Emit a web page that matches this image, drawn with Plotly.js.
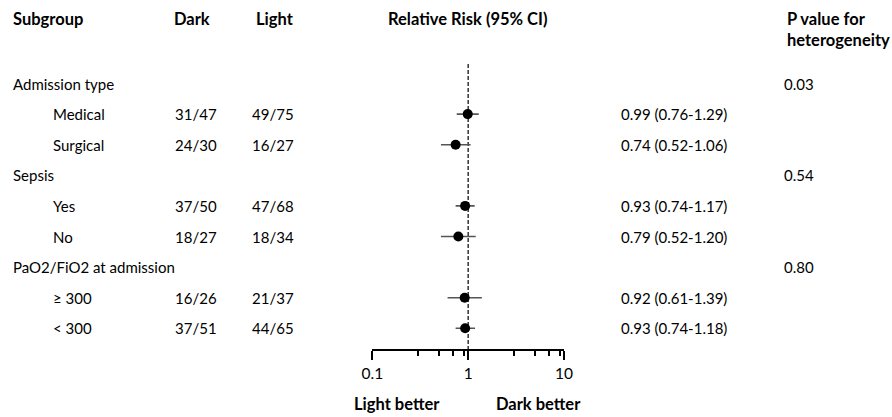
<!DOCTYPE html>
<html>
<head>
<meta charset="utf-8">
<script src="https://cdn.plot.ly/plotly-3.0.1.min.js"></script>
<style>html,body{margin:0;padding:0;background:#fff;}#chart{width:892px;height:417px;}</style>
</head>
<body>
<div id="chart"></div>
<script>
// ---- data ----
const groups = ["Admission type", "Sepsis", "PaO2/FiO2 at admission"];
const pValues = ["0.03", "0.54", "0.80"];
const subgroups = ["Medical", "Surgical", "Yes", "No", "\u2265 300", "< 300"];
const subgroupGroup = [0, 0, 1, 1, 2, 2];
const darkCounts = ["31/47", "24/30", "37/50", "18/27", "16/26", "37/51"];
const lightCounts = ["49/75", "16/27", "47/68", "18/34", "21/37", "44/65"];
const rr = [0.99, 0.74, 0.93, 0.79, 0.92, 0.93];
const ciLow = [0.76, 0.52, 0.74, 0.52, 0.61, 0.74];
const ciHigh = [1.29, 1.06, 1.17, 1.20, 1.39, 1.18];
const tickVals = [0.1, 1, 10];
const tickText = ["0.1", "1", "10"];
const minorTickVals = [0.3, 0.5, 0.7, 0.9, 3, 5, 7, 9];
const headers = ["Subgroup", "Dark", "Light", "Relative Risk (95% CI)", "P value for<br>heterogeneity"];
const sideLabels = ["Light better", "Dark better"];

// ---- layout constants ----
const W = 892, H = 417;
const FONT = "Lato, 'Open Sans', sans-serif";
const px = v => v / W;
const py = v => 1 - v / H;
const ROW0 = 83.5, ROWH = 30.6;

// row indices
const groupRow = [];
const subRow = [];
let r = 0;
groups.forEach((g, gi) => {
  groupRow.push(r); r++;
  subgroups.forEach((s, si) => { if (subgroupGroup[si] === gi) { subRow[si] = r; r++; } });
});

const annotations = [];
const txt = (text, x, y, opts) => Object.assign({
  text, x, y, xref: 'paper', yref: 'y', xanchor: 'left', yanchor: 'middle',
  showarrow: false, font: {family: FONT, size: 15, color: '#000'}
}, opts || {});

// headers
const bold = {family: FONT, size: 16.5, color: '#000', weight: 'bold'};
annotations.push(txt("<b>" + headers[0] + "</b>", px(11), py(19), {yref: 'paper', font: bold}));
annotations.push(txt("<b>" + headers[1] + "</b>", px(172), py(19), {yref: 'paper', font: bold}));
annotations.push(txt("<b>" + headers[2] + "</b>", px(254), py(19), {yref: 'paper', font: bold}));
annotations.push(txt("<b>" + headers[3] + "</b>", px(467), py(19), {yref: 'paper', xanchor: 'center', font: bold}));
annotations.push(txt("<b>" + headers[4] + "</b>", px(785), py(7), {yref: 'paper', yanchor: 'top', align: 'left', font: bold}));

groups.forEach((g, i) => {
  annotations.push(txt(g, px(11), groupRow[i]));
  annotations.push(txt(pValues[i], px(782), groupRow[i]));
});
subgroups.forEach((s, i) => {
  annotations.push(txt(s, px(51), subRow[i]));
  annotations.push(txt(darkCounts[i], px(173), subRow[i]));
  annotations.push(txt(lightCounts[i], px(250), subRow[i]));
  annotations.push(txt(rr[i].toFixed(2) + " (" + ciLow[i].toFixed(2) + "-" + ciHigh[i].toFixed(2) + ")", px(619), subRow[i]));
});
annotations.push(txt("<b>" + sideLabels[0] + "</b>", px(397), py(404), {yref: 'paper', xanchor: 'center', font: bold}));
annotations.push(txt("<b>" + sideLabels[1] + "</b>", px(538), py(404), {yref: 'paper', xanchor: 'center', font: bold}));

const trace = {
  type: 'scatter', mode: 'markers',
  x: rr, y: subRow,
  marker: {color: '#000', size: 10, symbol: 'circle'},
  error_x: {
    type: 'data', symmetric: false,
    array: rr.map((v, i) => ciHigh[i] - v),
    arrayminus: rr.map((v, i) => v - ciLow[i]),
    color: '#555', thickness: 1.6, width: 0
  },
  hoverinfo: 'skip', showlegend: false, cliponaxis: false
};

const layout = {
  width: W, height: H,
  margin: {l: 0, r: 0, t: 0, b: 0},
  paper_bgcolor: '#fff', plot_bgcolor: 'rgba(0,0,0,0)',
  showlegend: false,
  xaxis: {
    type: 'log', range: [-1, 1],
    domain: [px(372.3), px(564)],
    anchor: 'free', position: py(350),
    showline: true, linecolor: '#000', linewidth: 2,
    ticks: 'outside', ticklen: 9, tickwidth: 2, tickcolor: '#000',
    tickmode: 'array', tickvals: tickVals, ticktext: tickText,
    tickfont: {family: FONT, size: 15.5, color: '#000'},
    showgrid: false, zeroline: false, fixedrange: true,
    minor: {tickmode: 'array', tickvals: minorTickVals, ticks: 'outside', ticklen: 5, tickwidth: 2, tickcolor: '#000', showgrid: false}
  },
  yaxis: {
    range: [(H - ROW0) / ROWH, -ROW0 / ROWH],
    domain: [0, 1], visible: false, fixedrange: true
  },
  shapes: [{
    type: 'line', xref: 'x', yref: 'paper', x0: 1, x1: 1, y0: py(350), y1: py(62),
    line: {color: '#000', width: 1.2, dash: '4px,2px'}, layer: 'below'
  }],
  annotations
};

Plotly.newPlot('chart', [trace], layout, {displayModeBar: false, staticPlot: true});
</script>
</body>
</html>
